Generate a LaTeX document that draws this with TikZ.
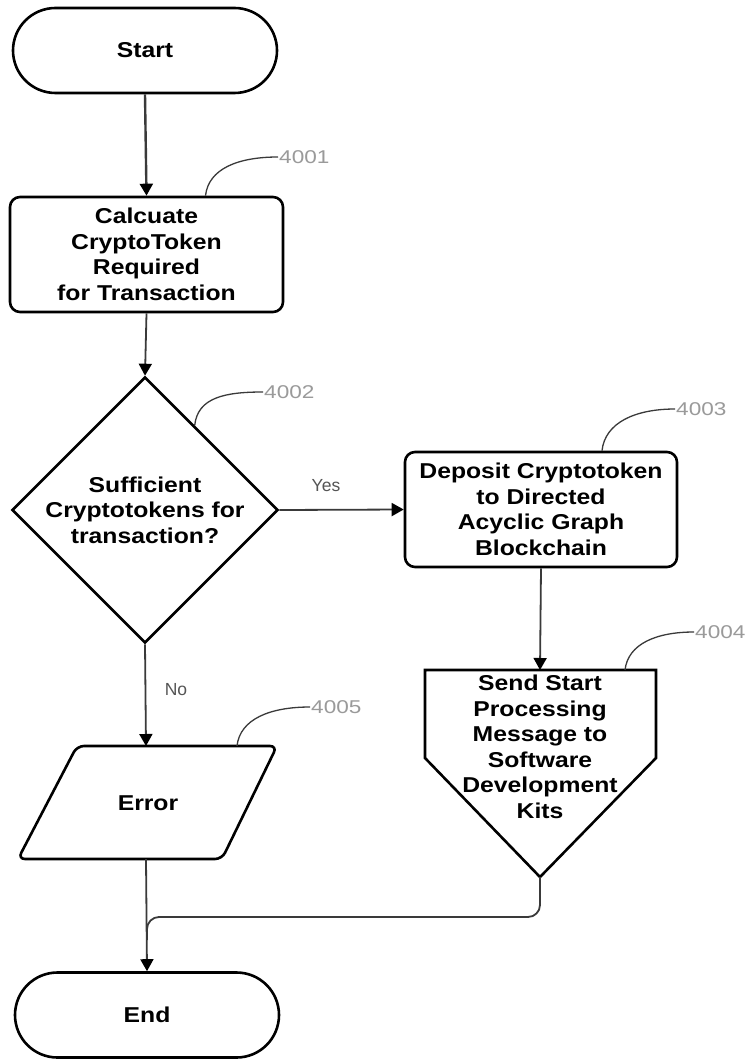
\documentclass[tikz,border=0pt]{standalone}
\usepackage{fontspec}
\setmainfont{Liberation Sans}
\newfontfamily\boxfont[FakeStretch=1.15]{Liberation Sans}
\newfontfamily\numfont[FakeStretch=1.22]{Liberation Sans}
\usetikzlibrary{arrows.meta,shapes.geometric,shapes.misc,calc}

\definecolor{linegray}{HTML}{3A3A3A}
\definecolor{numgray}{HTML}{9A9A9A}
\definecolor{branchgray}{HTML}{555555}

\begin{document}
\begin{tikzpicture}[x=1pt,y=-1pt,
  shapeline/.style={draw=black,line width=2.6pt},
  boxtext/.style={align=center,text=black,font=\boxfont\bfseries\fontsize{21.5}{25.5}\selectfont},
  termbox/.style={shapeline,boxtext,rounded rectangle,minimum width=264pt,minimum height=85pt,inner sep=0pt},
  procbox/.style={shapeline,boxtext,rectangle,rounded corners=10pt,minimum width=273pt,minimum height=115pt,inner sep=0pt},
  decbox/.style={shapeline,boxtext,diamond,minimum width=260pt,minimum height=245pt,inner sep=0pt},
  flow/.style={draw=linegray,line width=1.8pt,-{Triangle[length=12pt,width=13pt,color=black]}},
  leader/.style={draw=linegray,line width=1.3pt},
  refnum/.style={text=numgray,font=\numfont\fontsize{18.5}{18.5}\selectfont,anchor=west,inner sep=0pt},
  branch/.style={text=branchgray,font=\fontsize{17.5}{18}\selectfont,inner sep=0pt}
]
\fill[white] (0,0) rectangle (755,1059);
\useasboundingbox (0,0) rectangle (755,1059);

% ---- main nodes ----
\node[termbox] (start) at (145,50.5) {Start};
\node[procbox] (calc) at (146.5,254.5) {Calcuate\\CryptoToken\\Required\\for Transaction};
\node[decbox] (dec) at (145,510) {Sufficient\\Cryptotokens for\\transaction?};
\node[procbox, minimum width=272pt] (dag) at (541,509.5) {Deposit Cryptotoken\\to Directed\\Acyclic Graph\\Blockchain};

% off-page connector outline and its text
\coordinate (sdktop) at (540,670);
\coordinate (sdktip) at (540,877);
\draw[shapeline,line join=miter] (425,670) -- (656,670) -- (656,758) -- (sdktip) -- (425,758) -- cycle;
\node[boxtext,inner sep=0pt] (sdk) at (540,747) {Send Start\\Processing\\Message to\\Software\\Development\\Kits};

% data (parallelogram) outline and its text
\coordinate (errtop) at (146,746);
\coordinate (errbot) at (146,859);
\draw[shapeline,rounded corners=7pt] (77,746) -- (277,746) -- (222,859) -- (18,859) -- cycle;
\node[boxtext,inner sep=0pt] (err) at (148,803) {Error};

\node[termbox] (end) at (147,1015) {End};

% ---- connectors ----
\draw[flow,line width=2.4pt] (start.south) -- (calc.north);
\draw[flow] (calc.south) -- (dec.north);
\draw[flow] (dec.east) -- (dag.west);
\node[branch] (yes) at (326,486) {Yes};
\draw[flow] (dag.south) -- (sdktop);
\draw[flow] (dec.south) -- (errtop);
\node[branch] (no) at (176,690) {No};
\draw[flow] (errbot) -- (end.north);
\coordinate (merge) at (147,940);
\draw[draw=linegray,line width=1.8pt,rounded corners=12pt] (sdktip) -- (540,917) -- (147,917) -- (merge);

% ---- reference numerals ----
\draw[leader] ([xshift=59pt]calc.north) .. controls +(3,-27) and +(-40,0) .. (278,157);
\node[refnum] (n4001) at (279,157) {4001};
\draw[leader] ($(dec.north)!0.37!(dec.east)$) .. controls +(3,-28) and +(-38,0) .. (263,392);
\node[refnum] (n4002) at (264,392) {4002};
\draw[leader] ([xshift=61pt]dag.north) .. controls +(3,-28) and +(-40,0) .. (675,409);
\node[refnum] (n4003) at (676,409) {4003};
\draw[leader] (625,670) .. controls +(3,-26) and +(-38,0) .. (694,632);
\node[refnum] (n4004) at (695,632) {4004};
\draw[leader] (237,746) .. controls +(3,-27) and +(-40,0) .. (310,707);
\node[refnum] (n4005) at (311,707) {4005};
\end{tikzpicture}
\end{document}
